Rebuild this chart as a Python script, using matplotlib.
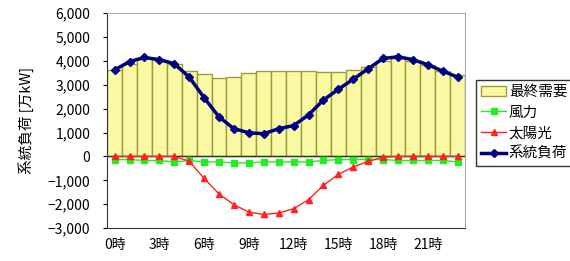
import numpy as np
import matplotlib.pyplot as plt
from matplotlib.ticker import FuncFormatter

plt.rcParams['font.family'] = ['Noto Sans CJK JP', 'DejaVu Sans']

hours = np.arange(24)
# 最終需要 (bars)
demand = [3600, 3880, 4100, 4050, 3880, 3570, 3460, 3290, 3330, 3500, 3570, 3570,
          3570, 3570, 3530, 3530, 3630, 3740, 4000, 4100, 4000, 3810, 3570, 3390]
# 風力
wind = [-130, -130, -170, -170, -230, -170, -230, -230, -270, -270, -230, -230,
        -230, -230, -170, -130, -130, -130, -130, -170, -170, -170, -170, -230]
# 太陽光
solar = [0, 0, 0, 0, 0, -200, -920, -1570, -2020, -2330, -2430, -2370,
         -2190, -1810, -1210, -750, -440, -210, -30, 0, 0, 0, 0, 0]
# 系統負荷
load = [3620, 3970, 4140, 4050, 3880, 3320, 2460, 1650, 1160, 990, 950, 1160,
        1290, 1740, 2360, 2810, 3230, 3670, 4100, 4170, 4050, 3840, 3570, 3320]

xlabels = ['0時', '3時', '6時', '9時', '12時', '15時', '18時', '21時']

fig = plt.figure(figsize=(5.7, 2.61), dpi=100)
ax = fig.add_axes([0.188, 0.126, 0.628, 0.824])

b = ax.bar(hours, demand, width=1.0, color='#FAFAA5', edgecolor='#9C9C3A',
           linewidth=1.0, label='最終需要', zorder=1)
ax.axhline(0, color='#333333', linewidth=1.0, zorder=2)
l1, = ax.plot(hours, wind, color='#22EE22', linewidth=1.0, marker='s', markersize=5,
              label='風力', zorder=3)
l2, = ax.plot(hours, solar, color='#FF2020', linewidth=1.0, marker='^', markersize=5,
              label='太陽光', zorder=4)
l3, = ax.plot(hours, load, color='#000080', linewidth=2.5, marker='D', markersize=4,
              label='系統負荷', zorder=5)

ax.set_xlim(-0.5, 23.5)
ax.set_ylim(-3000, 6000)
ax.set_yticks(range(-3000, 6001, 1000))
ax.yaxis.set_major_formatter(FuncFormatter(lambda v, p: f'{int(v):,}'.replace('-', '\u2212')))
ax.set_xticks(range(0, 24, 3))
ax.set_xticklabels(xlabels)
ax.tick_params(axis='x', length=0, pad=7, labelsize=10)
ax.tick_params(axis='y', length=3, direction='out', labelsize=10, pad=9)
ax.set_ylabel('系統負荷 [万kW]', fontsize=10.5, labelpad=10)

ax.spines['top'].set_color('#AAAAAA')
ax.spines['right'].set_color('#AAAAAA')
ax.spines['left'].set_color('#333333')
ax.spines['bottom'].set_color('#333333')

leg = fig.legend([b, l1, l2, l3], ['最終需要', '風力', '太陽光', '系統負荷'],
                 loc='upper left', bbox_to_anchor=(0.830, 0.705), fontsize=10.5,
                 frameon=True, fancybox=False, edgecolor='black',
                 handlelength=1.7, borderpad=0.35, borderaxespad=0.2,
                 labelspacing=0.45, handletextpad=0.2)
leg.get_frame().set_linewidth(1.0)

fig.savefig('out.png', dpi=100)
